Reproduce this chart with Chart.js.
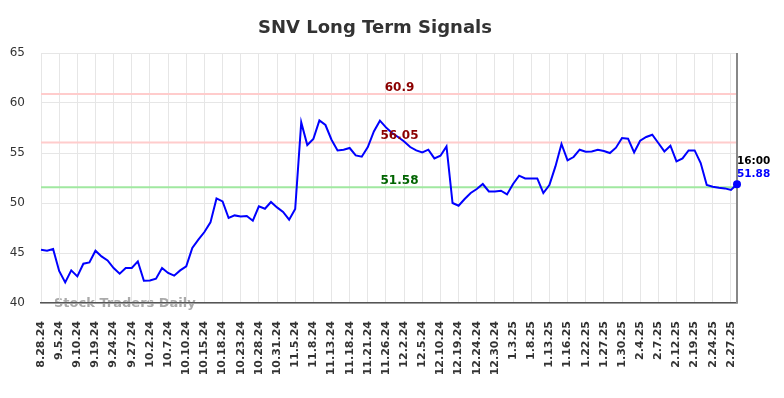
<!DOCTYPE html>
<html>
<head>
<meta charset="utf-8">
<script src="https://cdn.jsdelivr.net/npm/chart.js@4.4.1/dist/chart.umd.min.js"></script>
<style>
html,body{margin:0;padding:0;background:#fff;}
canvas{display:block;}
</style>
</head>
<body>
<canvas id="c" width="784" height="398" style="width:784px;height:398px"></canvas>
<script>
const dates = [
"8.28.24","8.29.24","9.3.24","9.5.24","9.6.24","9.9.24","9.10.24","9.12.24","9.16.24",
"9.19.24","9.20.24","9.23.24","9.24.24","9.25.24","9.26.24","9.27.24","9.30.24","10.1.24",
"10.2.24","10.3.24","10.4.24","10.7.24","10.8.24","10.9.24","10.10.24","10.11.24","10.14.24",
"10.15.24","10.16.24","10.17.24","10.18.24","10.21.24","10.22.24","10.23.24","10.24.24","10.25.24",
"10.28.24","10.29.24","10.30.24","10.31.24","11.1.24","11.4.24","11.5.24","11.6.24","11.7.24",
"11.8.24","11.11.24","11.12.24","11.13.24","11.14.24","11.15.24","11.18.24","11.19.24","11.20.24",
"11.21.24","11.22.24","11.25.24","11.26.24","11.27.24","11.29.24","12.2.24","12.3.24","12.4.24",
"12.5.24","12.6.24","12.9.24","12.10.24","12.11.24","12.18.24","12.19.24","12.20.24","12.23.24",
"12.24.24","12.26.24","12.27.24","12.30.24","12.31.24","1.2.25","1.3.25","1.6.25","1.7.25",
"1.8.25","1.9.25","1.10.25","1.13.25","1.14.25","1.15.25","1.16.25","1.17.25","1.21.25",
"1.22.25","1.23.25","1.24.25","1.27.25","1.28.25","1.29.25","1.30.25","1.31.25","2.3.25",
"2.4.25","2.5.25","2.6.25","2.7.25","2.10.25","2.11.25","2.12.25","2.13.25","2.14.25",
"2.19.25","2.20.25","2.21.25","2.24.25","2.25.25","2.26.25","2.27.25","2.28.25"
];
const signal = [
45.33,45.23,45.4,43.2,42.06,43.26,42.66,43.93,44.06,
45.23,44.66,44.26,43.5,42.93,43.5,43.5,44.16,42.23,
42.26,42.43,43.5,43.0,42.73,43.26,43.66,45.5,46.33,
47.1,48.06,50.46,50.16,48.5,48.76,48.66,48.7,48.23,
49.66,49.43,50.1,49.56,49.1,48.33,49.4,58.06,55.8,
56.4,58.26,57.8,56.33,55.26,55.33,55.5,54.76,54.63,
55.6,57.16,58.23,57.56,57.0,56.6,56.16,55.6,55.26,
55.06,55.33,54.46,54.73,55.66,50.0,49.73,50.4,51.0,
51.4,51.9,51.16,51.16,51.23,50.86,51.9,52.73,52.46,
52.46,52.46,51.0,51.8,53.66,55.9,54.26,54.6,55.33,
55.13,55.16,55.33,55.2,55.0,55.53,56.5,56.43,55.06,
56.23,56.6,56.83,56.0,55.16,55.73,54.16,54.46,55.26,
55.26,54.0,51.8,51.63,51.53,51.46,51.3,51.88
];
const levelValues = [60.9, 56.05, 51.58];
const levelLabels = ["60.9", "56.05", "51.58"];
const levelLineColors = ["#ffcccc", "#ffcccc", "#a0e8a0"];
const levelTextColors = ["#8b0000", "#8b0000", "#006400"];
const yTicks = [40, 45, 50, 55, 60, 65];
const lastTimeLabel = "16:00";
const titleText = "SNV Long Term Signals";
const watermarkText = "Stock Traders Daily";

const FONT = "'DejaVu Sans', sans-serif";
const lastIdx = signal.length - 1;

const overlay = {
  id: 'overlay',
  beforeDraw(chart) {
    const ctx = chart.ctx;
    const ca = chart.chartArea;
    ctx.save();
    ctx.font = "bold 18px " + FONT;
    ctx.fillStyle = "#333333";
    ctx.textAlign = "center";
    ctx.textBaseline = "alphabetic";
    ctx.fillText(titleText, 375, 32.5);
    ctx.font = "bold 13px " + FONT;
    ctx.fillStyle = "#aaaaaa";
    ctx.textAlign = "left";
    ctx.fillText(watermarkText, ca.left + 13, ca.bottom + 4);
    ctx.restore();
  },
  beforeDatasetsDraw(chart) {
    const ctx = chart.ctx;
    const ca = chart.chartArea;
    const y = chart.scales.y;
    const x = chart.scales.x;
    ctx.save();
    levelValues.forEach((v, i) => {
      const py = y.getPixelForValue(v);
      ctx.strokeStyle = levelLineColors[i];
      ctx.lineWidth = 2;
      ctx.beginPath();
      ctx.moveTo(ca.left, py);
      ctx.lineTo(ca.right, py);
      ctx.stroke();
    });
    const lx = x.getPixelForValue(lastIdx);
    ctx.strokeStyle = "#888888";
    ctx.lineWidth = 2;
    ctx.beginPath();
    ctx.moveTo(lx, ca.top);
    ctx.lineTo(lx, ca.bottom);
    ctx.stroke();
    ctx.restore();
  },
  afterDatasetsDraw(chart) {
    const ctx = chart.ctx;
    const y = chart.scales.y;
    const x = chart.scales.x;
    ctx.save();
    ctx.font = "bold 12px " + FONT;
    ctx.textAlign = "center";
    ctx.textBaseline = "alphabetic";
    levelValues.forEach((v, i) => {
      const py = y.getPixelForValue(v);
      ctx.fillStyle = levelTextColors[i];
      ctx.fillText(levelLabels[i], 399.5, py - 3.5);
    });
    const lx = x.getPixelForValue(lastIdx);
    const ly = y.getPixelForValue(signal[lastIdx]);
    ctx.font = "bold 10.5px " + FONT;
    ctx.textAlign = "left";
    ctx.fillStyle = "#000000";
    ctx.fillText(lastTimeLabel, lx, ly - 20);
    ctx.fillStyle = "#0000ff";
    ctx.fillText(signal[lastIdx].toFixed(2), lx, ly - 7);
    ctx.restore();
  }
};

new Chart(document.getElementById('c'), {
  type: 'line',
  data: {
    labels: dates,
    datasets: [{
      data: signal,
      borderColor: '#0000ff',
      backgroundColor: '#0000ff',
      borderWidth: 2,
      tension: 0,
      fill: false,
      pointRadius: ctx => ctx.dataIndex === lastIdx ? 4 : 0,
      pointHoverRadius: 0,
      pointBackgroundColor: '#0000ff',
      pointBorderWidth: 0
    }]
  },
  options: {
    responsive: false,
    devicePixelRatio: 1,
    animation: false,
    layout: { padding: { top: 53, right: 47, left: 0, bottom: 0 } },
    plugins: {
      legend: { display: false },
      title: { display: false },
      tooltip: { enabled: false }
    },
    scales: {
      x: {
        type: 'category',
        offset: false,
        afterFit(s) { s.height = 95; },
        grid: { color: '#e6e6e6', lineWidth: 1, drawTicks: false },
        border: { display: true, color: '#555555', width: 1.5 },
        ticks: {
          autoSkip: false,
          maxRotation: 90,
          minRotation: 90,
          padding: 18,
          color: '#333333',
          font: { family: FONT, size: 11, weight: 'bold' },
          callback(val, idx) { return idx % 3 === 0 ? dates[idx] : null; }
        }
      },
      y: {
        min: yTicks[0],
        max: yTicks[yTicks.length - 1],
        afterFit(s) { s.width = 41; },
        afterBuildTicks(s) { s.ticks = yTicks.map(v => ({ value: v })); },
        grid: { color: '#e6e6e6', lineWidth: 1, drawTicks: false },
        border: { display: false },
        ticks: {
          padding: 16,
          color: '#333333',
          font: { family: FONT, size: 12 }
        }
      }
    }
  },
  plugins: [overlay]
});
</script>
</body>
</html>
